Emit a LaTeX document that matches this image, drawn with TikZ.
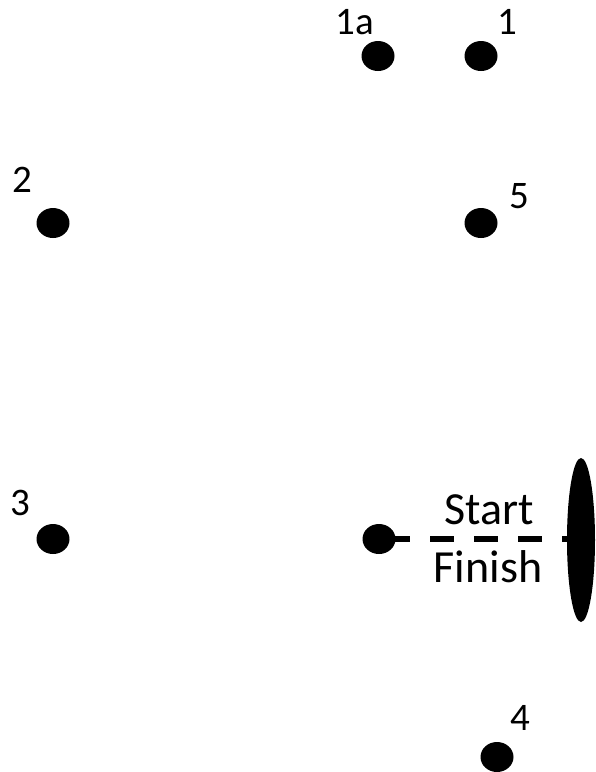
\documentclass[tikz,border=0pt]{standalone}
\usepackage{fontspec}
\setmainfont{Carlito}
\usetikzlibrary{shapes.geometric}
\begin{document}
\begin{tikzpicture}[x=1pt,y=-1pt,
  dot/.style={ellipse,fill=black,inner sep=0pt,minimum width=33pt,minimum height=30pt},
  num/.style={inner sep=0pt,font=\fontsize{39pt}{42pt}\selectfont},
  big/.style={inner sep=0pt,font=\fontsize{46pt}{50pt}\selectfont}]
\useasboundingbox (0,0) rectangle (596,772);
\node[dot] (d1a) at (378,56) {};
\node[dot] (d1) at (481,56) {};
\node[dot] (d2) at (53,223) {};
\node[dot] (d5) at (481,223) {};
\node[dot] (d3) at (53,539) {};
\node[dot] (s) at (379,539) {};
\node[dot] (d4) at (497,757) {};
\node[ellipse,fill=black,inner sep=0pt,minimum width=28pt,minimum height=164pt] (fin) at (581,540) {};
\draw[line width=6pt,dash pattern=on 24pt off 20pt,dash phase=37pt] (s.center) -- (s.center -| fin.center);
\node[num] (l1a) at (355,22) {1a};
\node[num] (l1) at (507,22) {1};
\node[num] (l2) at (22,180) {2};
\node[num] (l5) at (519,196) {5};
\node[num] (l3) at (20,503) {3};
\node[num] (l4) at (520,718) {4};
\node[big] (ls) at (489,510) {Start};
\node[big] (lf) at (488,567) {Finish};
\end{tikzpicture}
\end{document}
